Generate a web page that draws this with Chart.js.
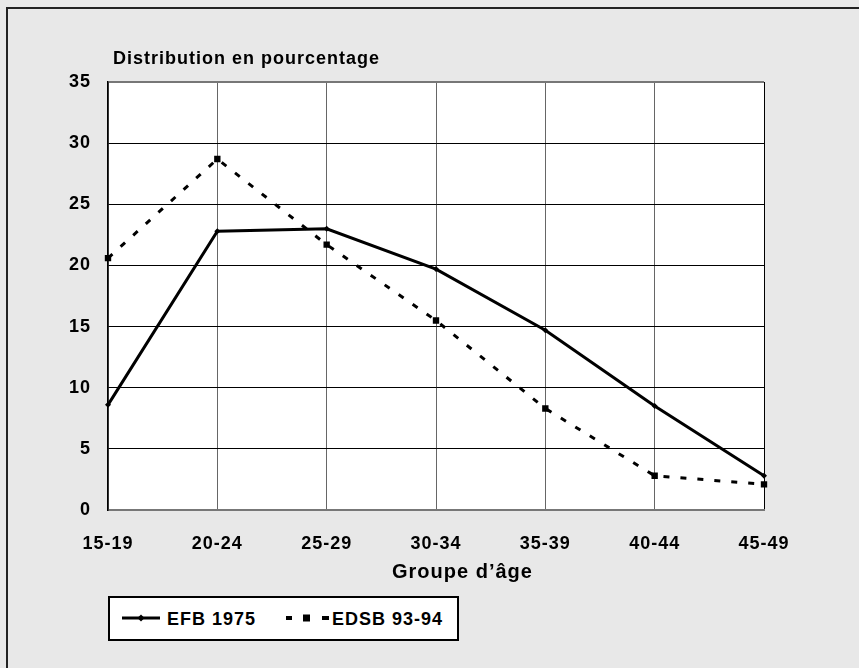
<!DOCTYPE html>
<html>
<head>
<meta charset="utf-8">
<script src="https://cdn.jsdelivr.net/npm/chart.js@4/dist/chart.umd.min.js"></script>
<style>
html, body { margin: 0; padding: 0; background: #e8e8e8; overflow: hidden; }
#wrap { position: relative; width: 859px; height: 668px; }
#frame { position: absolute; left: 6px; top: 7px; width: 900px; height: 700px; border: 2px solid #222; box-sizing: border-box; }
#mainChart { position: absolute; left: 0; top: 0; }
.t { position: absolute; font-family: "Liberation Sans", Arial, sans-serif; font-weight: bold; color: #000; letter-spacing: 1px; white-space: nowrap; line-height: 1; }
#ytitle { left: 113px; top: 49px; font-size: 18px; }
#xtitle { left: 392px; top: 561px; font-size: 20px; }
#legend { position: absolute; left: 108px; top: 596px; width: 351px; height: 45px; box-sizing: border-box; border: 2px solid #000; background: #fff; }
.lg { position: absolute; }
</style>
</head>
<body>
<div id="wrap">
  <div id="frame"></div>
  <canvas id="mainChart" width="859" height="668"></canvas>
  <div class="t" id="ytitle">Distribution en pourcentage</div>
  <div class="t" id="xtitle">Groupe d’âge</div>
  <div id="legend"></div>
  <svg class="lg" style="left:122px;top:612px" width="40" height="12">
    <line x1="0" y1="6" x2="38" y2="6" stroke="#000" stroke-width="3"/>
    <rect x="16.5" y="3.5" width="5" height="5" fill="#000" transform="rotate(45 19 6)"/>
  </svg>
  <div class="t" style="left:167px;top:610px;font-size:18px">EFB 1975</div>
  <svg class="lg" style="left:284px;top:612px" width="48" height="12">
    <rect x="2" y="4" width="6" height="4" fill="#000"/>
    <rect x="19" y="2.5" width="7" height="7" fill="#000"/>
    <rect x="38" y="4" width="7" height="4" fill="#000"/>
  </svg>
  <div class="t" style="left:332px;top:610px;font-size:18px">EDSB 93-94</div>
</div>
<script>
const ageGroups = ['15-19', '20-24', '25-29', '30-34', '35-39', '40-44', '45-49'];
const efb1975 = [8.6, 22.8, 23.0, 19.7, 14.7, 8.5, 2.8];
const edsb9394 = [20.6, 28.7, 21.7, 15.5, 8.3, 2.8, 2.1];
const yMax = 35;
const yStep = 5;

Chart.defaults.font.family = '"Liberation Sans", Arial, sans-serif';
Chart.defaults.font.weight = 'bold';
Chart.defaults.color = '#000';

// fond blanc de la zone de tracé
const plotBg = {
    id: 'plotBg',
    beforeDraw(chart) {
        const { ctx, chartArea: a } = chart;
        ctx.save();
        ctx.fillStyle = '#fff';
        ctx.fillRect(a.left, a.top, a.right - a.left, a.bottom - a.top);
        ctx.restore();
        ctx.letterSpacing = '1px';
    }
};

const ctx = document.getElementById('mainChart').getContext('2d');

new Chart(ctx, {
    type: 'line',
    data: {
        labels: ageGroups,
        datasets: [{
            label: 'EDSB 93-94',
            data: edsb9394,
            borderColor: '#000',
            backgroundColor: '#000',
            borderWidth: 3,
            borderDash: [6, 11],
            tension: 0,
            pointStyle: 'rect',
            pointRadius: 4.5,
            pointBorderWidth: 0
        }, {
            label: 'EFB 1975',
            data: efb1975,
            borderColor: '#000',
            backgroundColor: '#000',
            borderWidth: 3,
            tension: 0,
            pointStyle: 'rectRot',
            pointRadius: 3,
            pointBorderWidth: 0
        }]
    },
    options: {
        responsive: false,
        animation: false,
        layout: { padding: { left: 0, top: 82, right: 95, bottom: 108 } },
        plugins: { legend: { display: false }, tooltip: { enabled: false } },
        scales: {
            x: {
                offset: false,
                afterFit: s => { s.height = 50; },
                grid: {
                    drawTicks: false,
                    color: c => c.index === ageGroups.length - 1 ? '#000' : '#666',
                    lineWidth: 1
                },
                border: { color: '#777', width: 2 },
                ticks: { padding: 23, font: { size: 18 }, maxRotation: 0 }
            },
            y: {
                min: 0,
                max: yMax,
                afterFit: s => { s.width = 108; },
                grid: {
                    drawTicks: false,
                    color: c => c.tick && c.tick.value === yMax ? '#777' : '#000',
                    lineWidth: c => c.tick && c.tick.value === yMax ? 2 : 1
                },
                border: { color: '#000', width: 1.5 },
                ticks: { stepSize: yStep, padding: 17, font: { size: 18 } }
            }
        }
    },
    plugins: [plotBg]
});
</script>
</body>
</html>
